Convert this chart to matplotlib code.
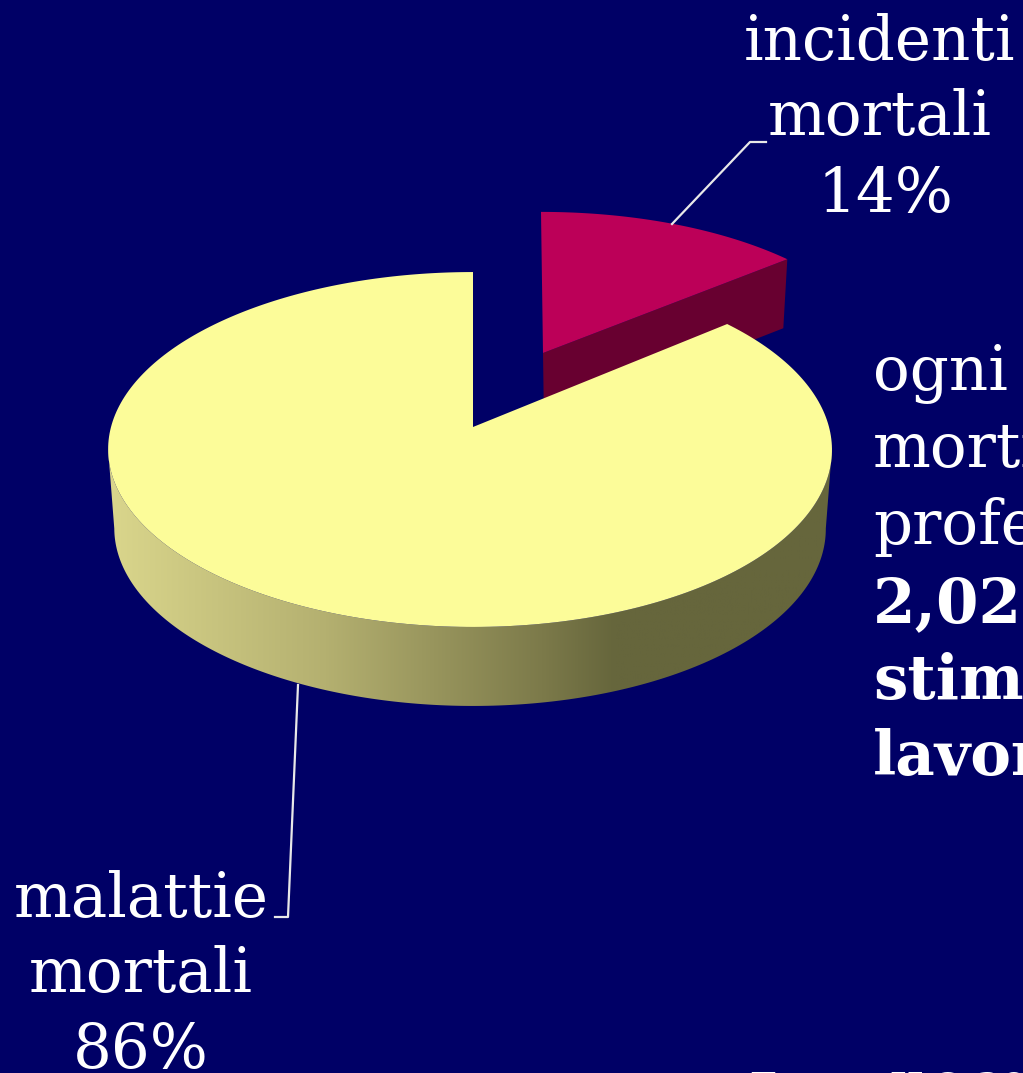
import numpy as np
import matplotlib
matplotlib.use("Agg")
import matplotlib.pyplot as plt
from matplotlib.colors import LinearSegmentedColormap
from matplotlib.patches import Polygon

# Chart data
categories = ["incidenti\nmortali", "malattie\nmortali"]
shares = [14, 86]
side_text = ["ogni", "morti", "profe"]
side_text_bold = ["2,02", "stim", "lavor"]
source_text = "Fonte: ILO 2002"

# Colours
bg_color = "#000066"
red_top = "#BC0058"
red_side = "#680030"
yellow_top = "#FCFC99"
rim_stops = [(0.0, "#DAD68C"), (0.3, "#B4B070"), (0.6, "#7C7A4A"), (0.7, "#66663C"), (1.0, "#66663C")]

fig = plt.figure(figsize=(10.23, 10.73), dpi=100, facecolor=bg_color)
ax = fig.add_axes([0, 0, 1, 1])
ax.set_xlim(0, 1023)
ax.set_ylim(1073, 0)
ax.axis("off")


# Project a point of the pie (unit circle) on the tilted view
def project(theta, cx, cy, ax_x, ax_y):
    u = np.sin(theta)
    v = np.cos(theta)
    w = 1 + 0.1268 * v
    return cx + ax_x * u / w - 3 * u ** 2, cy - ax_y * v / w


# Angles in radians, clockwise from the top
split = 2 * np.pi * shares[0] / sum(shares)
big = np.linspace(split, 2 * np.pi, 300)
small = np.linspace(0, split, 80)
edge = np.arccos(-0.1268)
front = np.linspace(edge, 2 * np.pi - edge, 200)

# Exploded wedge: the cut face first, then the top
tip_x, tip_y = project(split, 541, 353, 348, 159)
side = Polygon([(543, 353), (tip_x, tip_y), (tip_x - 4, tip_y + 69), (544, 422)],
               closed=True, facecolor=red_side, edgecolor="none")
ax.add_patch(side)
wx, wy = project(small, 541, 353, 348, 159)
ax.fill(np.r_[543, wx], np.r_[353, wy], color=red_top, lw=0)

# Rim of the big slice, shaded from left to right
fx, fy = project(front, 473, 427, 359, 174.6)
bx = 470 + (fx - 470) * 0.983
by = fy + 79
rim = Polygon(np.c_[np.r_[fx, bx[::-1]], np.r_[fy, by[::-1]]], closed=True, facecolor="none", edgecolor="none")
ax.add_patch(rim)
cmap = LinearSegmentedColormap.from_list("rim", rim_stops)
img = ax.imshow(np.linspace(0, 1, 256).reshape(1, -1), cmap=cmap, extent=(108, 832, 720, 430), aspect="auto")
img.set_clip_path(rim)
ax.set_xlim(0, 1023)
ax.set_ylim(1073, 0)

# Top of the big slice
tx, ty = project(big, 473, 427, 359, 174.6)
ax.fill(np.r_[473, tx], np.r_[427, ty], color=yellow_top, lw=0)

# Leader lines
ax.plot([672, 750, 766], [224, 142, 142], color="#E8E8E8", lw=1.6)
ax.plot([298, 288, 275], [685, 917, 917], color="#E8E8E8", lw=1.6)

# Labels
font = "DejaVu Serif"
size = 44
ax.text(880, 60, categories[0].split("\n")[0], ha="center", va="baseline", color="white", family=font, fontsize=size)
ax.text(880, 135, categories[0].split("\n")[1], ha="center", va="baseline", color="white", family=font, fontsize=size)
ax.text(885, 212, f"{shares[0]}%", ha="center", va="baseline", color="white", family=font, fontsize=size)
ax.text(141, 917, categories[1].split("\n")[0], ha="center", va="baseline", color="white", family=font, fontsize=size)
ax.text(141, 992, categories[1].split("\n")[1], ha="center", va="baseline", color="white", family=font, fontsize=size)
ax.text(141, 1068, f"{shares[1]}%", ha="center", va="baseline", color="white", family=font, fontsize=size)

for i, line in enumerate(side_text):
    ax.text(873, 390 + i * 77, line, ha="left", va="baseline", color="white", family=font, fontsize=size)
for i, line in enumerate(side_text_bold):
    ax.text(873, 622 + i * 76.5, line, ha="left", va="baseline", color="white", family=font, fontsize=size, fontweight="bold")
ax.text(750, 1097, source_text, ha="left", va="baseline", color="white", family=font, fontsize=26, fontweight="bold")

fig.savefig("out.png", dpi=100, facecolor=bg_color)
